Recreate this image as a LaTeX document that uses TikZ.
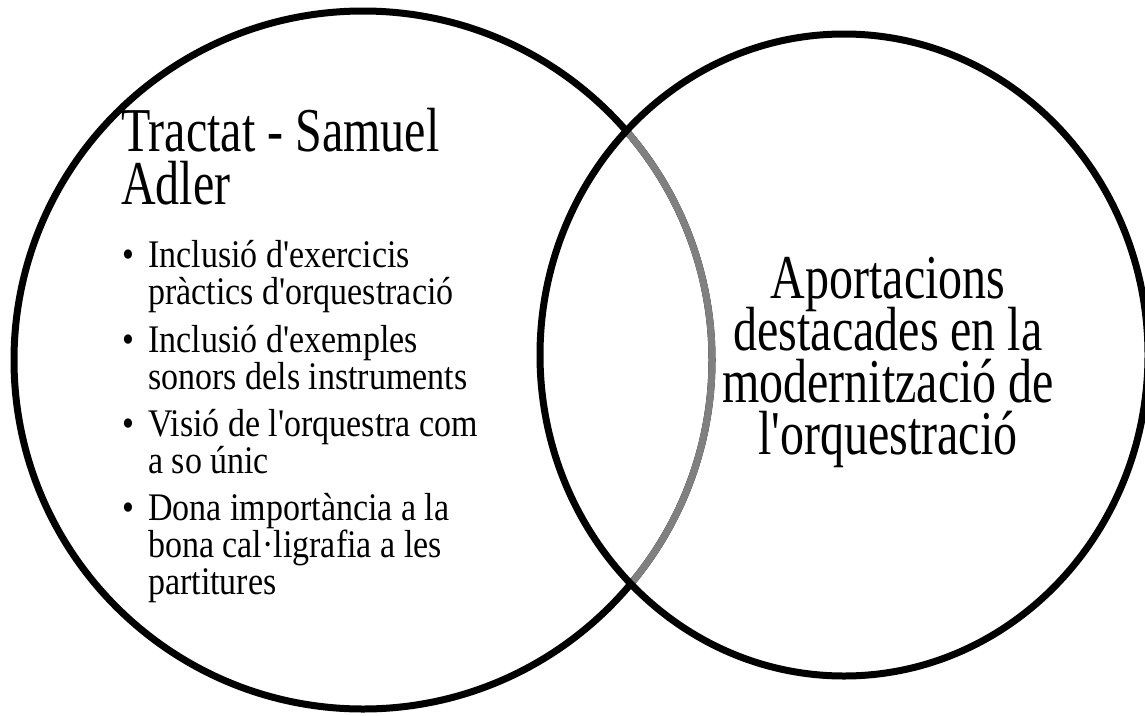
\documentclass[tikz,border=0pt]{standalone}
\usepackage{fontspec}
\setmainfont{Liberation Serif}[Ligatures=TeXOff]
\newcommand{\tall}[1]{\scalebox{1}[1.3]{#1}}
\newcommand{\talls}[1]{\scalebox{1}[1.15]{#1}}
\begin{document}
\begin{tikzpicture}[x=1pt,y=-1pt,
  ring/.style={line width=7pt,draw=black},
  inner/.style={line width=7pt,draw=innergray},
  big/.style={font=\fontsize{48}{52}\selectfont,inner sep=0pt,anchor=base west},
  bigc/.style={font=\fontsize{48}{52}\selectfont,inner sep=0pt,anchor=base},
  item/.style={font=\fontsize{34}{38}\selectfont,inner sep=0pt,anchor=base west}]
\definecolor{innergray}{RGB}{128,128,128}
\useasboundingbox (0,0) rectangle (1145,715);
% circles
\draw[ring] (363,360) circle [radius=349];
\begin{scope}
  \clip (844,355) ellipse [x radius=304, y radius=321];
  \draw[inner] (363,360) circle [radius=349];
\end{scope}
\draw[ring] (844,355) ellipse [x radius=304, y radius=321];
% left title
\node[big] (t1) at (121,151) {\tall{Tractat - Samuel}};
\node[big] (t2) at (121,204) {\tall{Adler}};
% bullets
\node[item] (b1) at (122,267) {\talls{•}};
\node[item] (l1) at (148,267) {\talls{Inclusió d'exercicis}};
\node[item] (l2) at (148,304) {\talls{pràctics d'orquestració}};
\node[item] (b2) at (122,352) {\talls{•}};
\node[item] (l3) at (148,352) {\talls{Inclusió d'exemples}};
\node[item] (l4) at (148,389) {\talls{sonors dels instruments}};
\node[item] (b3) at (122,436) {\talls{•}};
\node[item] (l5) at (148,436) {\talls{Visió de l'orquestra com}};
\node[item] (l6) at (148,473) {\talls{a so únic}};
\node[item] (b4) at (122,520) {\talls{•}};
\node[item] (l7) at (148,520) {\talls{Dona importància a la}};
\node[item] (l8) at (148,557) {\talls{bona cal·ligrafia a les}};
\node[item] (l9) at (148,594) {\talls{partitures}};
% right text
\node[bigc] (r1) at (888,298) {\tall{Aportacions}};
\node[bigc] (r2) at (888,350) {\tall{destacades en la}};
\node[bigc] (r3) at (888,402) {\tall{modernització de}};
\node[bigc] (r4) at (888,454) {\tall{l'orquestració}};
\end{tikzpicture}
\end{document}
